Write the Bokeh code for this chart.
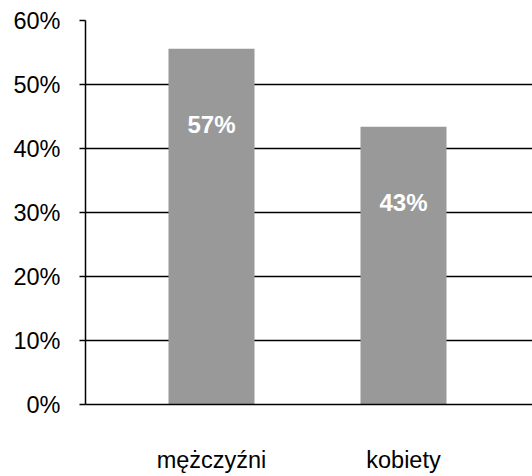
from bokeh.plotting import figure
from bokeh.models import ColumnDataSource, FixedTicker, Range1d
from bokeh.embed import file_html
from bokeh.resources import INLINE
from bokeh.core.properties import value

categories = ["mężczyźni", "kobiety"]
values = [55.6, 43.4]
value_labels = ["57%", "43%"]
y_ticks = [0, 10, 20, 30, 40, 50, 60]
y_tick_labels = ["0%", "10%", "20%", "30%", "40%", "50%", "60%"]

FONT = "Liberation Sans"
xs = list(range(len(categories)))
src = ColumnDataSource(dict(x=xs, top=values, lab=value_labels))

p = figure(width=532, height=476, output_backend="svg", toolbar_location=None,
           x_range=Range1d(-0.65625, 1.672), y_range=Range1d(0, 60),
           min_border_left=85, min_border_right=0, min_border_top=20, min_border_bottom=72)
p.outline_line_color = None
p.background_fill_color = "white"
p.border_fill_color = "white"

p.vbar(x="x", top="top", bottom=0, width=0.448, source=src,
       fill_color="#999999", line_color=None)
p.text(x="x", y="top", text="lab", source=src, y_offset=76,
       text_align="center", text_baseline="middle",
       text_font=value(FONT), text_font_style="bold",
       text_font_size="24px", text_color="white")

# y axis
p.yaxis.ticker = FixedTicker(ticks=y_ticks)
p.yaxis.major_label_overrides = {t: l for t, l in zip(y_ticks, y_tick_labels)}
p.yaxis.axis_line_color = "black"
p.yaxis.axis_line_width = 1.5
p.yaxis.major_tick_line_color = "black"
p.yaxis.major_tick_line_width = 1.5
p.yaxis.major_tick_out = 6
p.yaxis.major_tick_in = 0
p.yaxis.minor_tick_line_color = None
p.yaxis.major_label_text_font = FONT
p.yaxis.major_label_text_font_size = "23.5px"
p.yaxis.major_label_text_color = "black"
p.yaxis.major_label_standoff = 19

# x axis
p.xaxis.ticker = FixedTicker(ticks=xs)
p.xaxis.major_label_overrides = {i: c for i, c in zip(xs, categories)}
p.xaxis.axis_line_color = "black"
p.xaxis.axis_line_width = 1.5
p.xaxis.major_tick_line_color = None
p.xaxis.minor_tick_line_color = None
p.xaxis.major_label_text_font = FONT
p.xaxis.major_label_text_font_size = "23.5px"
p.xaxis.major_label_text_color = "black"
p.xaxis.major_label_standoff = 36

p.xgrid.grid_line_color = None
p.ygrid.ticker = FixedTicker(ticks=y_ticks)
p.ygrid.grid_line_color = "black"
p.ygrid.grid_line_width = 1.5
p.ygrid.grid_line_alpha = 1.0

open("out.html", "w").write(file_html(p, INLINE))
